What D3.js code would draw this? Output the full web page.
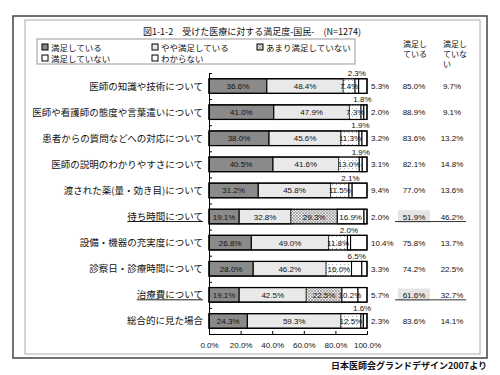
<!DOCTYPE html>
<html>
<head>
<meta charset="utf-8">
<script src="https://cdn.jsdelivr.net/npm/d3@7"></script>
<style>
  body { margin: 0; background: #fff; }
  text { font-family: "Liberation Sans", "Noto Sans CJK JP", sans-serif; fill: #111; }
  .jp { font-family: "Noto Sans CJK JP", sans-serif; }
</style>
</head>
<body>
<div id="chart"></div>
<script>
// data
const categories = [
    "医師の知識や技術について",
    "医師や看護師の態度や言葉遣いについて",
    "患者からの質問などへの対応について",
    "医師の説明のわかりやすさについて",
    "渡された薬(量・効き目)について",
    "待ち時間について",
    "設備・機器の充実度について",
    "診察日・診療時間について",
    "治療費について",
    "総合的に見た場合"
];
const satisfied    = [36.6, 41.0, 38.0, 40.5, 31.2, 19.1, 26.8, 28.0, 19.1, 24.3];
const somewhat     = [48.4, 47.9, 45.6, 41.6, 45.8, 32.8, 49.0, 46.2, 42.5, 59.3];
const notVery      = [7.4, 7.3, 11.3, 13.0, 11.5, 29.3, 11.8, 16.0, 22.5, 12.5];
const notSatisfied = [2.3, 1.8, 1.9, 1.9, 2.1, 16.9, 2.0, 6.5, 10.2, 1.6];
const unknown      = [5.3, 2.0, 3.2, 3.1, 9.4, 2.0, 10.4, 3.3, 5.7, 2.3];
const totalSat     = [85.0, 88.9, 83.6, 82.1, 77.0, 51.9, 75.8, 74.2, 61.6, 83.6];
const totalUnsat   = [9.7, 9.1, 13.2, 14.8, 13.6, 46.2, 13.7, 22.5, 32.7, 14.1];
const seriesNames  = ["満足している", "やや満足している", "あまり満足していない", "満足していない", "わからない"];
const highlighted  = ["待ち時間について", "治療費について"];
const xTicks = [0, 20, 40, 60, 80, 100];

const width = 500, height = 375;
const svg = d3.select('#chart').append('svg')
    .attr('width', width)
    .attr('height', height);

// patterns
const defs = svg.append('defs');
const dots = defs.append('pattern').attr('id', 'dots')
    .attr('width', 4).attr('height', 4).attr('patternUnits', 'userSpaceOnUse');
dots.append('rect').attr('width', 4).attr('height', 4).attr('fill', '#fff');
dots.append('rect').attr('width', 1).attr('height', 1).attr('fill', '#aaa');
const hatch = defs.append('pattern').attr('id', 'hatch')
    .attr('width', 3).attr('height', 3).attr('patternUnits', 'userSpaceOnUse');
hatch.append('rect').attr('width', 3).attr('height', 3).attr('fill', '#e6e6e6');
hatch.append('path').attr('d', 'M0,3 L3,0 M0,0 L3,3').attr('stroke', '#888').attr('stroke-width', 0.6);

const fills = ['#8a8a8a', '#e9e9e9', 'url(#dots)', '#fff', '#fff'];

// frames
svg.append('rect').attr('x', 13).attr('y', 16).attr('width', 474).attr('height', 342)
    .attr('fill', 'none').attr('stroke', '#444').attr('stroke-width', 1.5);
svg.append('rect').attr('x', 25).attr('y', 20).attr('width', 455).attr('height', 334)
    .attr('fill', 'none').attr('stroke', '#aaa').attr('stroke-width', 1);

// title
svg.append('text').attr('class', 'jp')
    .attr('x', 252).attr('y', 35)
    .attr('text-anchor', 'middle')
    .style('font-size', '9px')
    .text('図1-1-2　受けた医療に対する満足度-国民-　(N=1274)');

// legend
svg.append('rect').attr('x', 37).attr('y', 39).attr('width', 318).attr('height', 25)
    .attr('fill', '#fff').attr('stroke', '#999');
const legendPos = [[42, 48], [152, 48], [257, 48], [42, 59], [152, 59]];
const legend = svg.selectAll('.legend')
    .data(seriesNames)
    .enter().append('g')
    .attr('transform', (d, i) => 'translate(' + legendPos[i][0] + ',' + legendPos[i][1] + ')');
legend.append('rect')
    .attr('x', 0).attr('y', -4).attr('width', 6).attr('height', 6)
    .attr('fill', (d, i) => i == 2 ? 'url(#hatch)' : fills[i])
    .attr('stroke', '#000').attr('stroke-width', 1);
legend.append('text').attr('class', 'jp')
    .attr('x', 9).attr('y', 2.5)
    .style('font-size', '8.5px')
    .text(d => d);

// right column headers
const headers = [["満足し", "ている"], ["満足し", "ていな", "い"]];
const headerX = [403, 443];
headers.forEach((lines, j) => {
    lines.forEach((t, k) => {
        svg.append('text').attr('class', 'jp')
            .attr('x', headerX[j]).attr('y', 47 + k * 10)
            .style('font-size', '8px')
            .text(t);
    });
});

// scales
const x = d3.scaleLinear().domain([0, 100]).range([209, 367]);
const y = d3.scaleBand().domain(categories).range([73, 334]).paddingInner(0.44).paddingOuter(0.22);
const yEdges = d3.scaleLinear().domain([0, categories.length]).range([73, 334]);

// stacked data
const rows = categories.map((c, i) => ({
    category: c,
    values: [satisfied[i], somewhat[i], notVery[i], notSatisfied[i], unknown[i]],
    sat: totalSat[i],
    unsat: totalUnsat[i],
    hl: highlighted.includes(c)
}));
rows.forEach(r => {
    let acc = 0;
    r.segs = r.values.map((v, k) => {
        const s = { k: k, v: v, x0: acc, x1: acc + v, row: r };
        acc += v;
        return s;
    });
});

const rowG = svg.selectAll('.row')
    .data(rows)
    .enter().append('g')
    .attr('class', 'row');

// segments
rowG.selectAll('rect.seg')
    .data(r => r.segs)
    .enter().append('rect')
    .attr('class', 'seg')
    .attr('x', d => x(d.x0))
    .attr('y', d => y(d.row.category))
    .attr('width', d => x(Math.min(d.x1, 100)) - x(d.x0))
    .attr('height', y.bandwidth())
    .attr('fill', d => (d.k == 2 && d.row.hl) ? 'url(#hatch)' : fills[d.k])
    .attr('stroke', '#000')
    .attr('stroke-width', d => d.k == 2 ? 0.8 : 1.1)
    .attr('stroke-dasharray', d => d.k == 2 ? '1.5,1' : null);

// outer box of each bar
rowG.append('rect')
    .attr('x', x(0))
    .attr('y', r => y(r.category))
    .attr('width', x(100) - x(0))
    .attr('height', y.bandwidth())
    .attr('fill', 'none')
    .attr('stroke', '#000')
    .attr('stroke-width', 1.2);

// segment labels
rowG.selectAll('text.lab')
    .data(r => r.segs)
    .enter().append('text')
    .attr('class', 'lab')
    .style('font-size', '8px')
    .attr('text-anchor', d => d.k == 4 ? 'start' : 'middle')
    .attr('x', d => {
        if (d.k == 4) return x(100) + 4;
        return x((d.x0 + d.x1) / 2);
    })
    .attr('y', d => {
        const c = y(d.row.category) + y.bandwidth() / 2;
        if (d.k == 3 && d.v < 10) return y(d.row.category) - 2.5;
        return c + 3;
    })
    .text(d => d.v.toFixed(1) + '%');

// highlight backgrounds and underlines on the right
rowG.filter(r => r.hl).append('rect')
    .attr('x', 398).attr('width', 32)
    .attr('y', r => y(r.category) + 1)
    .attr('height', y.bandwidth() - 2)
    .attr('fill', '#e4e4e4');
rowG.filter(r => r.hl).append('line')
    .attr('x1', 395).attr('x2', 466)
    .attr('y1', r => y(r.category) + y.bandwidth() / 2 + 5)
    .attr('y2', r => y(r.category) + y.bandwidth() / 2 + 5)
    .attr('stroke', '#333').attr('stroke-width', 1);

rowG.append('text')
    .attr('x', 414)
    .attr('y', r => y(r.category) + y.bandwidth() / 2 + 3)
    .attr('text-anchor', 'middle')
    .style('font-size', '8px')
    .text(r => r.sat.toFixed(1) + '%');
rowG.append('text')
    .attr('x', 452)
    .attr('y', r => y(r.category) + y.bandwidth() / 2 + 3)
    .attr('text-anchor', 'middle')
    .style('font-size', '8px')
    .text(r => r.unsat.toFixed(1) + '%');

// category labels
const catText = rowG.append('text').attr('class', 'jp')
    .attr('x', 203)
    .attr('y', r => y(r.category) + y.bandwidth() / 2 + 3.5)
    .attr('text-anchor', 'end')
    .style('font-size', '9.5px')
    .style('text-decoration', r => r.hl ? 'underline' : null)
    .text(r => r.category);

// y axis (ticks on row edges, pointing inward)
svg.append('g')
    .attr('transform', 'translate(' + x(0) + ',0)')
    .call(d3.axisLeft(yEdges).ticks(categories.length).tickFormat('').tickSizeInner(-3).tickSizeOuter(-3))
    .call(g => g.selectAll('line,path').attr('stroke', '#000'));

// x axis
const xAxis = svg.append('g')
    .attr('transform', 'translate(0,334)')
    .call(d3.axisBottom(x).tickValues(xTicks).tickFormat(d => d.toFixed(1) + '%').tickSizeInner(-3).tickSizeOuter(-3).tickPadding(8));
xAxis.selectAll('line,path').attr('stroke', '#000');
xAxis.selectAll('text').style('font-size', '8px').attr('fill', '#111');

// source
svg.append('text').attr('class', 'jp')
    .attr('x', 487).attr('y', 369)
    .attr('text-anchor', 'end')
    .style('font-size', '9px')
    .style('font-weight', 'bold')
    .text('日本医師会グランドデザイン2007より');
</script>
</body>
</html>
